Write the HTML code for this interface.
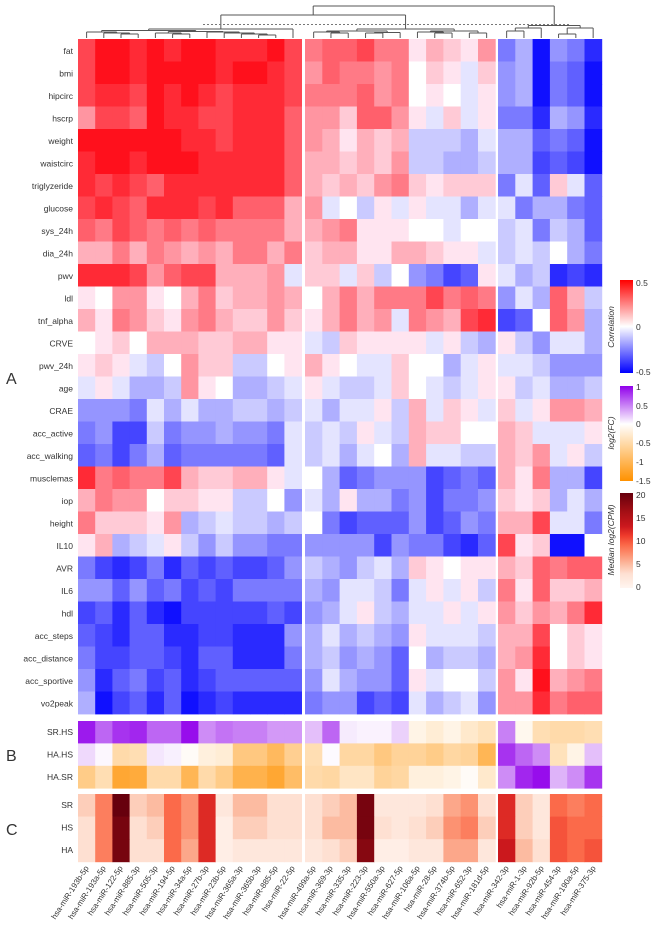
<!DOCTYPE html>
<html><head><meta charset="utf-8"><style>
html,body{margin:0;padding:0;background:#fff;width:660px;height:934px;overflow:hidden}
svg{display:block}
text{font-family:"Liberation Sans",sans-serif;fill:#333}
</style></head><body>
<svg id="s" width="660" height="934" viewBox="0 0 660 934" xmlns="http://www.w3.org/2000/svg">
<g id="cells"></g>
<g id="dend" stroke="#555" stroke-width="1" fill="none"></g>
<line x1="203" y1="24.5" x2="570" y2="24.5" stroke="#777" stroke-width="1" stroke-dasharray="2,2"/>
<g font-size="8.5" text-anchor="end">
<text x="73" y="54">fat</text><text x="73" y="76.5">bmi</text><text x="73" y="99">hipcirc</text><text x="73" y="121.5">hscrp</text><text x="73" y="144">weight</text><text x="73" y="166.5">waistcirc</text><text x="73" y="189">triglyzeride</text><text x="73" y="211.5">glucose</text><text x="73" y="234">sys_24h</text><text x="73" y="256.5">dia_24h</text><text x="73" y="279">pwv</text><text x="73" y="301.5">ldl</text><text x="73" y="324">tnf_alpha</text><text x="73" y="346.5">CRVE</text><text x="73" y="369">pwv_24h</text><text x="73" y="391.5">age</text><text x="73" y="414">CRAE</text><text x="73" y="436.5">acc_active</text><text x="73" y="459">acc_walking</text><text x="73" y="481.5">musclemas</text><text x="73" y="504">iop</text><text x="73" y="526.5">height</text><text x="73" y="549">IL10</text><text x="73" y="571.5">AVR</text><text x="73" y="594">IL6</text><text x="73" y="616.5">hdl</text><text x="73" y="639">acc_steps</text><text x="73" y="661.5">acc_distance</text><text x="73" y="684">acc_sportive</text><text x="73" y="706.5">vo2peak</text>
<text x="73" y="735">SR.HS</text><text x="73" y="757.5">HA.HS</text><text x="73" y="780">HA.SR</text>
<text x="73" y="808">SR</text><text x="73" y="830.5">HS</text><text x="73" y="853">HA</text>
</g>
<g font-size="16"><text x="6" y="384">A</text><text x="6" y="761">B</text><text x="6" y="835">C</text></g>
<defs>
<linearGradient id="gc" x1="0" y1="0" x2="0" y2="1"><stop offset="0" stop-color="#ff0000"/><stop offset="0.5" stop-color="#ffffff"/><stop offset="1" stop-color="#0000ff"/></linearGradient>
<linearGradient id="gf" x1="0" y1="0" x2="0" y2="1"><stop offset="0" stop-color="#9100eb"/><stop offset="0.4" stop-color="#ffffff"/><stop offset="1" stop-color="#ff9100"/></linearGradient>
<linearGradient id="gm" x1="0" y1="0" x2="0" y2="1"><stop offset="0" stop-color="#67000d"/><stop offset="0.2" stop-color="#a50f15"/><stop offset="0.35" stop-color="#cb181d"/><stop offset="0.45" stop-color="#ef3b2c"/><stop offset="0.55" stop-color="#fb6a4a"/><stop offset="0.65" stop-color="#fc9272"/><stop offset="0.75" stop-color="#fcbba1"/><stop offset="0.85" stop-color="#fee0d2"/><stop offset="1" stop-color="#fff5f0"/></linearGradient>
</defs>
<rect x="620" y="280" width="13" height="93" fill="url(#gc)"/>
<rect x="620" y="386" width="13" height="95" fill="url(#gf)"/>
<rect x="620" y="493" width="13" height="95" fill="url(#gm)"/>
<g font-size="8.5">
<text x="636" y="286">0.5</text><text x="636" y="330">0</text><text x="636" y="375">-0.5</text>
<text x="636" y="390">1</text><text x="636" y="409">0.5</text><text x="636" y="427">0</text><text x="636" y="446">-0.5</text><text x="636" y="465">-1</text><text x="636" y="484">-1.5</text>
<text x="636" y="498">20</text><text x="636" y="521">15</text><text x="636" y="544">10</text><text x="636" y="567">5</text><text x="636" y="590">0</text>
</g>
<g font-size="8.5" font-style="italic" text-anchor="middle">
<text transform="translate(614,327) rotate(-90)">Correlation</text>
<text transform="translate(614,433) rotate(-90)">log2(FC)</text>
<text transform="translate(614,540) rotate(-90)">Median log2(CPM)</text>
</g>
<g font-size="8" text-anchor="end">
<text transform="translate(89,868) rotate(-57)">hsa-miR-193b-5p</text>
<text transform="translate(106,868) rotate(-57)">hsa-miR-193a-5p</text>
<text transform="translate(123,868) rotate(-57)">hsa-miR-122-5p</text>
<text transform="translate(140,868) rotate(-57)">hsa-miR-885-3p</text>
<text transform="translate(158,868) rotate(-57)">hsa-miR-505-3p</text>
<text transform="translate(175,868) rotate(-57)">hsa-miR-194-5p</text>
<text transform="translate(192,868) rotate(-57)">hsa-miR-34a-5p</text>
<text transform="translate(209,868) rotate(-57)">hsa-miR-27b-3p</text>
<text transform="translate(226,868) rotate(-57)">hsa-miR-23b-5p</text>
<text transform="translate(243,868) rotate(-57)">hsa-miR-365a-3p</text>
<text transform="translate(261,868) rotate(-57)">hsa-miR-365b-3p</text>
<text transform="translate(278,868) rotate(-57)">hsa-miR-885-5p</text>
<text transform="translate(295,868) rotate(-57)">hsa-miR-22-5p</text>
<text transform="translate(316,868) rotate(-57)">hsa-miR-499a-5p</text>
<text transform="translate(333,868) rotate(-57)">hsa-miR-369-3p</text>
<text transform="translate(351,868) rotate(-57)">hsa-miR-335-3p</text>
<text transform="translate(368,868) rotate(-57)">hsa-miR-223-3p</text>
<text transform="translate(385,868) rotate(-57)">hsa-miR-550a-3p</text>
<text transform="translate(403,868) rotate(-57)">hsa-miR-627-5p</text>
<text transform="translate(420,868) rotate(-57)">hsa-miR-106a-5p</text>
<text transform="translate(437,868) rotate(-57)">hsa-miR-28-5p</text>
<text transform="translate(455,868) rotate(-57)">hsa-miR-374b-5p</text>
<text transform="translate(472,868) rotate(-57)">hsa-miR-652-3p</text>
<text transform="translate(489,868) rotate(-57)">hsa-miR-181d-5p</text>
<text transform="translate(509,868) rotate(-57)">hsa-miR-342-3p</text>
<text transform="translate(527,868) rotate(-57)">hsa-miR-1-3p</text>
<text transform="translate(544,868) rotate(-57)">hsa-miR-92b-5p</text>
<text transform="translate(561,868) rotate(-57)">hsa-miR-454-3p</text>
<text transform="translate(579,868) rotate(-57)">hsa-miR-190a-5p</text>
<text transform="translate(596,868) rotate(-57)">hsa-miR-375-3p</text>
</g>
</svg>
<script>
(function(){
var NS="http://www.w3.org/2000/svg";
var A=[
"7 9 9 8 9 8 9 9 8 8 8 9 7 5 6 6 7 5 5 1 3 2 1 4 -5 -3 -9 -4 -5 -8",
"7 9 9 8 9 9 9 9 8 9 9 8 7 4 6 5 5 4 5 0 2 1 -1 2 -4 -3 -9 -5 -6 -9",
"7 8 8 7 9 8 9 8 7 8 8 8 7 5 5 5 6 4 5 0 1 0 -1 1 -4 -3 -9 -5 -6 -9",
"4 7 7 6 9 8 8 7 7 8 8 8 6 4 4 2 6 6 4 1 -1 2 -1 1 -5 -5 -8 -3 -4 -8",
"9 9 9 9 9 9 8 8 7 8 8 8 6 4 3 1 3 2 3 -2 -2 -2 -3 -1 -3 -3 -6 -5 -6 -9",
"8 9 9 8 9 9 9 8 8 8 8 8 6 3 3 2 3 2 4 -2 -2 -3 -3 -2 -3 -3 -7 -6 -7 -9",
"8 7 8 7 6 8 8 8 8 8 8 8 6 3 2 3 2 4 5 2 1 2 2 2 -5 -1 -6 2 -1 -6",
"7 8 7 6 8 8 8 7 8 6 6 6 3 4 -1 0 -2 1 -1 1 -1 -1 -3 -1 -1 -5 -3 -3 -5 -6",
"6 5 7 6 5 6 5 6 5 5 5 5 3 3 4 5 1 1 1 0 0 -1 0 0 -2 -1 -5 -2 -3 -6",
"3 3 5 3 5 4 3 4 3 5 5 3 5 2 3 3 1 1 3 3 2 1 1 -1 -2 -1 -2 0 -3 -5",
"8 8 8 7 4 6 7 7 3 3 3 4 -1 2 2 -1 2 -2 0 -4 -5 -7 -6 1 -1 -3 -2 -8 -7 -8",
"1 0 4 4 1 0 3 5 2 3 3 4 3 0 3 5 3 5 5 5 7 5 6 5 -4 -1 -3 6 3 -2",
"3 1 5 4 2 1 4 5 3 2 2 4 2 1 3 5 3 4 -1 5 4 3 7 8 -7 -6 0 6 4 -3",
"0 1 2 0 3 3 3 2 2 3 3 1 1 -1 -2 2 1 1 1 1 -1 1 -2 -3 1 -2 -4 -1 -1 -3",
"1 2 1 -1 -2 0 4 2 2 -2 -2 0 1 3 1 0 -1 -1 2 0 0 -3 -1 1 -1 -1 -2 -4 -4 -4",
"-1 1 -1 -3 -3 -2 4 1 0 -3 -3 -2 -1 1 -1 -2 -2 -1 2 0 -1 -2 -1 1 1 -2 -1 -3 -3 -2",
"-4 -4 -4 -5 -1 -3 -1 -3 -3 -2 -2 -3 -2 -1 -3 -1 -1 1 -2 3 -1 2 1 -1 2 -1 1 4 4 3",
"-5 -4 -7 -7 -2 -5 -4 -4 -3 -4 -4 -5 -1 -2 -1 -2 1 -1 -2 3 2 2 0 0 3 2 -1 -1 -1 1",
"-6 -5 -7 -5 -3 -6 -5 -5 -5 -5 -5 -6 -1 -2 -1 -3 -1 0 -3 3 -1 -1 -2 -2 3 2 4 -1 1 -2",
"8 5 6 5 5 7 3 2 2 3 3 1 -1 0 -3 -6 -5 -4 -4 -4 -7 -6 -5 -6 3 1 5 -3 -3 -7",
"3 5 4 4 0 2 2 1 1 -2 -2 0 -4 -1 -3 1 -3 -3 -5 -4 -7 -5 -5 -4 2 1 2 -3 -1 -3",
"5 2 2 2 1 4 -3 -2 -1 -2 -2 -3 -2 0 -5 -7 -6 -6 -6 -4 -7 -6 -4 -5 3 3 7 -1 -1 -5",
"1 3 -3 -2 -1 1 -2 -4 -2 -4 -4 -5 -5 -4 -4 -4 -4 -7 -4 -5 -5 -7 -8 -6 7 1 2 -9 -9 0",
"-5 -7 -8 -7 -5 -8 -6 -7 -6 -7 -7 -6 -4 -2 -3 -4 -2 -1 -3 2 1 0 1 1 3 2 6 5 6 6",
"-4 -4 -6 -4 -6 -5 -7 -6 -7 -5 -5 -5 -5 -3 -4 -1 -1 -2 -5 -1 1 -1 1 -2 5 1 6 2 2 3",
"-7 -6 -8 -6 -8 -9 -7 -7 -7 -7 -7 -6 -7 -4 -3 -1 1 -2 -3 -1 -1 1 -1 1 4 2 4 3 5 8",
"-6 -7 -8 -6 -6 -8 -8 -7 -7 -8 -8 -8 -4 -3 -1 -3 -2 -3 -4 1 -1 -1 -1 -2 3 3 7 0 2 1",
"-5 -7 -7 -6 -6 -7 -8 -6 -6 -8 -8 -8 -5 -3 -2 -4 -3 -4 -6 0 -3 -2 -2 -3 3 4 8 0 2 1",
"-4 -8 -6 -5 -7 -6 -8 -7 -6 -6 -6 -6 -6 -4 -1 -3 -4 -4 -6 1 -1 0 0 -2 4 1 9 3 4 5",
"-3 -9 -7 -6 -8 -6 -9 -8 -7 -8 -8 -8 -8 -5 -4 -4 -7 -6 -7 -1 -3 -2 -1 -4 4 4 8 5 6 6"];
var B=[
"0.9 0.6 0.8 0.85 0.6 0.6 0.95 0.45 0.55 0.5 0.5 0.4 0.4 0.25 0.6 0.08 0.05 0.05 0.18 -0.15 -0.25 -0.15 -0.3 -0.4 0.5 -0.1 -0.45 -0.5 -0.5 -0.45",
"0.15 0.03 -0.5 -0.45 0.1 0.06 -0.05 -0.2 -0.25 -0.75 -0.75 -0.95 -0.65 -0.45 0.02 -0.55 -0.55 -0.75 -0.6 -0.6 -0.7 -0.55 -0.6 -1.0 0.8 0.6 0.45 -0.4 -0.15 0.25",
"-0.7 -0.45 -1.2 -1.15 -0.5 -0.5 -1.0 -0.5 -0.7 -1.05 -1.05 -1.2 -0.9 -0.5 -0.55 -0.35 -0.35 -0.6 -0.55 -0.2 -0.2 -0.15 -0.05 -0.3 0.45 0.85 0.95 0.3 0.45 0.8"];
var C=[
"4 8 20 4 5 9 7 12 2 5 5 3 3 3 4 5 19 2 2 2 3 6 7 3 12 4 2 9 8 9",
"3 8 19 3 4 9 7 12 1 4 4 3 3 3 5 5 19 3 2 3 4 7 8 4 12 4 2 10 9 9",
"3 8 19 3 3 9 6 12 1 2 2 2 2 2 3 4 18 1 1 2 2 6 6 2 13 5 3 10 9 10"];
function colX(i){ if(i<13) return [78+i*17.2,17.2]; if(i<24) return [305+(i-13)*17.3,17.3]; return [498+(i-24)*17.3,17.3]; }
function corr(v){var t=Math.min(1,Math.abs(v)/9.6);var c=Math.round(255*(1-t));return v>=0?"rgb(255,"+c+","+Math.min(255,c+12)+")":"rgb("+c+","+c+",255)";}
function mix(a,b,t){return "rgb("+a.map(function(x,i){return Math.round(x+(b[i]-x)*t)}).join(",")+")";}
function fc(v){if(v>=0)return mix([255,255,255],[145,0,235],Math.min(1,v));return mix([255,255,255],[255,145,0],Math.min(1,-v/1.5));}
var stops=[[0,[255,245,240]],[3,[254,224,210]],[5,[252,187,161]],[7,[252,146,114]],[9,[251,106,74]],[11,[239,59,44]],[13,[203,24,29]],[16,[165,15,21]],[20,[103,0,13]]];
function cpm(v){for(var k=1;k<stops.length;k++){if(v<=stops[k][0]){var a=stops[k-1],b=stops[k];return mix(a[1],b[1],(v-a[0])/(b[0]-a[0]));}}return "rgb(103,0,13)";}
var g=document.getElementById("cells");
function rect(x,y,w,h,f){var r=document.createElementNS(NS,"rect");r.setAttribute("x",x);r.setAttribute("y",y);r.setAttribute("width",w+0.4);r.setAttribute("height",h+0.4);r.setAttribute("fill",f);g.appendChild(r);}
A.forEach(function(row,r){row.split(" ").forEach(function(v,i){var c=colX(i);rect(c[0],39+r*22.5,c[1],22.5,corr(+v));});});
B.forEach(function(row,r){row.split(" ").forEach(function(v,i){var c=colX(i);rect(c[0],721+r*22.4,c[1],22.4,fc(+v));});});
C.forEach(function(row,r){row.split(" ").forEach(function(v,i){var c=colX(i);rect(c[0],794+r*22.6,c[1],22.6,cpm(+v));});});
var d=document.getElementById("dend");
function ln(x1,y1,x2,y2){var l=document.createElementNS(NS,"line");l.setAttribute("x1",x1);l.setAttribute("y1",y1);l.setAttribute("x2",x2);l.setAttribute("y2",y2);d.appendChild(l);}
var LEAF=38;
function draw(n){ if(typeof n==="number"){var c=colX(n);return [c[0]+c[1]/2,LEAF];}
 var a=draw(n[0]),b=draw(n[1]),h=n[2];
 ln(a[0],h,a[0],a[1]);ln(b[0],h,b[0],b[1]);ln(a[0],h,b[0],h);return [(a[0]+b[0])/2,h];}
var t1=draw([[[0,[1,[2,3,34],33],32],[[4,[5,6,34],33],[7,[8,[9,[10,11,35],34],33],32],31.5],30.5],12,29]);
var t2=draw([[[13,[14,15,33],32],[[16,17,33],18,32.5],31],[[19,[20,21,33],32],[22,23,33],31],29]);
var t3=draw([[[24,25,31],26,28],[[27,28,34],29,28],25.5]);
ln(t1[0],15,t1[0],t1[1]);ln(t2[0],15,t2[0],t2[1]);ln(t1[0],15,t2[0],15);
var m=(t1[0]+t2[0])/2;
ln(m,6,m,15);ln(t3[0],6,t3[0],t3[1]);ln(m,6,t3[0],6);
})();
</script>
</body></html>
